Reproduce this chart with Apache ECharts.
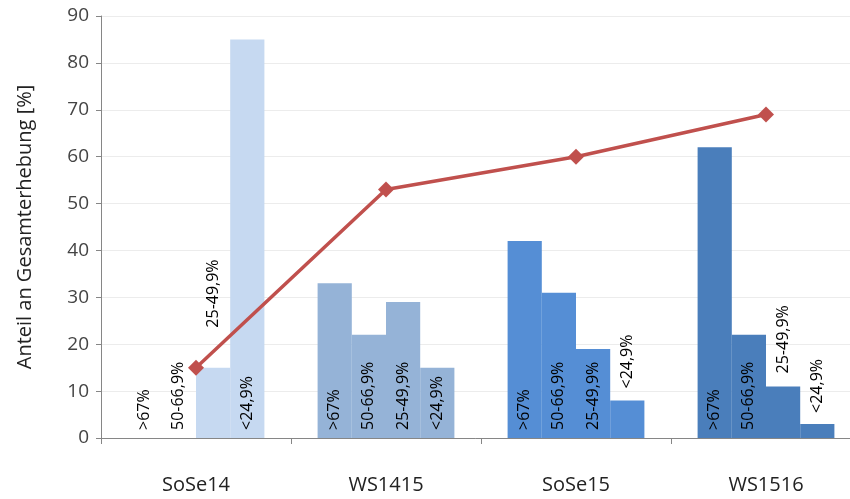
<!DOCTYPE html>
<html>
<head>
<meta charset="utf-8">
<script src="https://cdn.jsdelivr.net/npm/echarts@6/dist/echarts.min.js"></script>
<style>
  html, body { margin: 0; padding: 0; background: #fff; }
  #chart { width: 850px; height: 499px; }
</style>
</head>
<body>
<div id="chart"></div>
<script>
// Erhebungen (x-Achse)
const semesters = ['SoSe14', 'WS1415', 'SoSe15', 'WS1516'];
// Anteilsklassen (Balken je Semester)
const classes = ['>67%', '50-66,9%', '25-49,9%', '<24,9%'];
const valuesOver67 = [0, 33, 42, 62];
const values50to66 = [0, 22, 31, 22];
const values25to49 = [15, 29, 19, 11];
const valuesUnder25 = [85, 15, 8, 3];
// Anteil an Gesamterhebung (Linie)
const totalShare = [15, 53, 60, 69];
const yTicks = [0, 10, 20, 30, 40, 50, 60, 70, 80, 90];

const groupColors = ['#c6d9f1', '#95b3d7', '#558ed5', '#4a7ebb'];
const font = 'Open Sans, Liberation Sans, sans-serif';

// labels that sit above the bar instead of inside: [class][semester] -> distance
const labelOnTop = {
  0: { 0: 8 },
  1: { 0: 8 },
  2: { 0: 40, 3: 13 },
  3: { 2: 12, 3: 11 }
};

const barValues = [valuesOver67, values50to66, values25to49, valuesUnder25];

function buildBarSeries(ci) {
  return {
    name: classes[ci],
    type: 'bar',
    barGap: '0%',
    barCategoryGap: '28%',
    z: 2,
    data: barValues[ci].map((v, si) => {
      const top = labelOnTop[ci] && labelOnTop[ci][si] !== undefined;
      return {
        value: v,
        itemStyle: { color: groupColors[si] },
        label: top ? {
          position: 'top',
          distance: labelOnTop[ci][si]
        } : {
          position: 'insideBottom',
          distance: 8
        }
      };
    }),
    label: {
      show: true,
      rotate: 90,
      align: 'left',
      verticalAlign: 'middle',
      color: '#000',
      fontFamily: font,
      fontSize: 16,
      formatter: classes[ci]
    }
  };
}

const chart = echarts.init(document.getElementById('chart'));
chart.setOption({
  animation: false,
  grid: { left: 101, width: 760, top: 16, bottom: 61, outerBoundsMode: 'none', containLabel: false },
  xAxis: {
    type: 'category',
    data: semesters,
    axisLine: { lineStyle: { color: '#868686', width: 1 } },
    axisTick: { show: true, length: 6, lineStyle: { color: '#868686' } },
    axisLabel: { color: '#222', fontSize: 20, fontFamily: font, margin: 37 }
  },
  yAxis: {
    type: 'value',
    min: yTicks[0],
    max: yTicks[yTicks.length - 1],
    interval: 10,
    name: 'Anteil an Gesamterhebung [%]',
    nameLocation: 'middle',
    nameGap: 66,
    nameTextStyle: { color: '#222', fontSize: 20, fontFamily: font },
    axisLine: { show: true, lineStyle: { color: '#868686', width: 1 } },
    axisTick: { show: true, length: 5, lineStyle: { color: '#868686' } },
    axisLabel: { color: '#444', fontSize: 19, fontFamily: font, margin: 12 },
    splitLine: { lineStyle: { color: '#ececec', width: 1 } }
  },
  series: [
    buildBarSeries(0),
    buildBarSeries(1),
    buildBarSeries(2),
    buildBarSeries(3),
    {
      name: 'Gesamt',
      type: 'line',
      data: totalShare,
      z: 5,
      symbol: 'diamond',
      symbolSize: 16,
      lineStyle: { color: '#c0504d', width: 3.5 },
      itemStyle: { color: '#c0504d' }
    }
  ]
});
</script>
</body>
</html>
